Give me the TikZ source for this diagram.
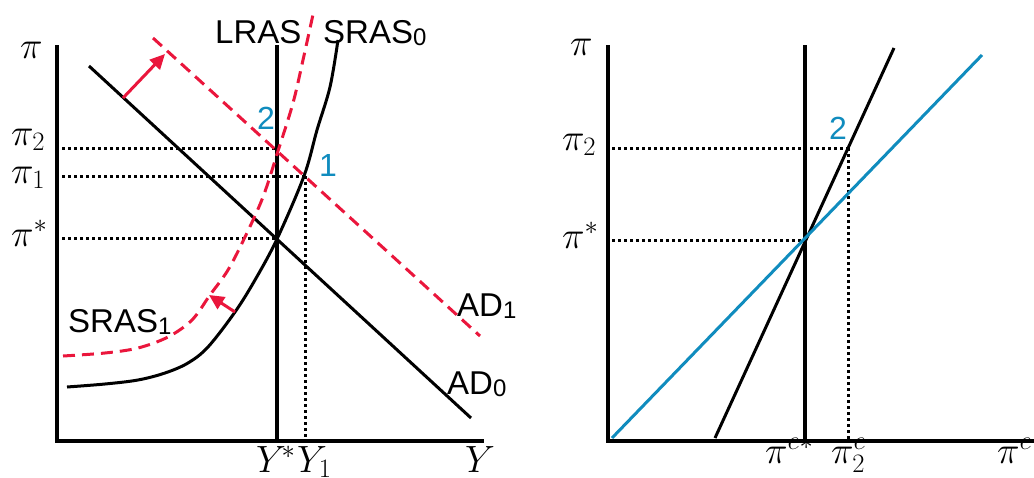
\RequirePackage{fix-cm}
\documentclass[tikz,border=0pt]{standalone}
\usepackage{fontspec}
\setsansfont{Liberation Sans}
\usetikzlibrary{arrows.meta}
\definecolor{ecred}{RGB}{234,22,60}
\definecolor{ecblue}{RGB}{16,140,190}
\newcommand{\subnum}[1]{\raisebox{-2pt}{\fontsize{24}{26}\selectfont #1}}
\begin{document}
\begin{tikzpicture}[x=1pt,y=-1pt,
  axis/.style={line width=3.6pt},
  curve/.style={line width=3pt},
  guide/.style={line width=3pt, dash pattern=on 3pt off 3pt},
  shifted/.style={line width=3pt, ecred, dash pattern=on 12pt off 7pt},
  shiftarrow/.style={line width=3pt, ecred, -{Triangle[length=15pt,width=14pt]}},
  lab/.style={font=\sffamily\fontsize{33}{36}\selectfont, inner sep=0pt, anchor=base west},
  eqlab/.style={font=\sffamily\fontsize{32}{36}\selectfont, text=ecblue, inner sep=0pt},
  mlab/.style={font=\fontsize{38}{44}\selectfont, inner sep=0pt, anchor=base west}]
\useasboundingbox (0,0) rectangle (1034,477);

% ---------- left panel ----------
\coordinate (LO) at (57,441);
\coordinate (LT) at (57,45);
\coordinate (LR) at (484,441);
\draw[axis, line join=miter] (LT) -- (LO) -- (LR);
\coordinate (lrasT) at (277,45);
\coordinate (lrasB) at (277,441);
\draw[axis] (lrasT) -- (lrasB);

% guides
\coordinate (g2a) at (62,148);  \coordinate (g2b) at (277,148);
\coordinate (g1a) at (62,176);  \coordinate (g1b) at (305,176);
\coordinate (gsa) at (62,238);  \coordinate (gsb) at (277,238);
\coordinate (y1b) at (305,441);
\draw[guide] (g2a) -- (g2b);
\draw[guide] (g1a) -- (g1b);
\draw[guide] (gsa) -- (gsb);
\draw[guide] (g1b) -- (y1b);

% AD curves
\coordinate (ad0a) at (89,66);  \coordinate (ad0b) at (471,418);
\coordinate (ad1a) at (153,38); \coordinate (ad1b) at (480,336);
\draw[curve] (ad0a) -- (ad0b);
\draw[shifted] (ad1a) -- (ad1b);

% SRAS curves
\draw[curve] plot[smooth, tension=0.55] coordinates {(67,387) (105,384) (138,380) (165,373) (188,363) (208,347) (235,312) (255,280) (277,239) (304,176) (317,130) (330,87) (338,40)};
\draw[shifted] plot[smooth, tension=0.55] coordinates {(63,356) (105,353) (138,348) (168,337) (192,320) (210,295) (228,270) (245,237) (263,197) (278,151) (293,103) (303,60) (314,10)};

% shift arrows
\coordinate (a1s) at (123,98);  \coordinate (a1e) at (165,54);
\coordinate (a2s) at (235,312); \coordinate (a2e) at (209,295);
\draw[shiftarrow] (a1s) -- (a1e);
\draw[shiftarrow] (a2s) -- (a2e);

% labels
\node[lab] (lras) at (215,43) {LRAS};
\node[lab] (sras0) at (323,43) {SRAS\subnum{0}};
\node[lab] (sras1) at (68,332) {SRAS\subnum{1}};
\node[lab] (ad1) at (457,316) {AD\subnum{1}};
\node[lab] (ad0) at (447,394) {AD\subnum{0}};
\node[eqlab] (e2) at (266,118) {2};
\node[eqlab] (e1) at (328,165) {1};

\node[mlab] (piL) at (20,58) {$\pi$};
\node[mlab] (pi2L) at (11,145) {$\pi_2$};
\node[mlab] (pi1L) at (11,183) {$\pi_1$};
\node[mlab] (pisL) at (11,246) {$\pi^*$};
\node[mlab] (ys) at (256,472) {$Y^{\!*}$};
\node[mlab] (y1) at (297,472) {$Y_1$};
\node[mlab] (yax) at (465,472) {$Y$};

% ---------- right panel ----------
\coordinate (RO) at (608,441);
\coordinate (RT) at (608,45);
\coordinate (RR) at (1040,441);
\draw[axis, line join=miter] (RT) -- (RO) -- (RR);
\coordinate (vT) at (805,45);
\coordinate (vB) at (805,441);
\draw[axis] (vT) -- (vB);

\coordinate (r2a) at (612,148); \coordinate (r2b) at (848,148);
\coordinate (rsa) at (612,240); \coordinate (rsb) at (805,240);
\coordinate (r2d) at (848,441);
\draw[guide] (r2a) -- (r2b);
\draw[guide] (rsa) -- (rsb);
\draw[guide] (r2b) -- (r2d);

\coordinate (bla) at (715,438); \coordinate (blb) at (894,48);
\coordinate (bua) at (612,438); \coordinate (bub) at (982,55);
\draw[curve] (bla) -- (blb);
\draw[curve, ecblue] (bua) -- (bub);

\node[eqlab] (r2) at (838,128) {2};
\node[mlab] (piR) at (570,55) {$\pi$};
\node[mlab] (pi2R) at (562,150) {$\pi_2$};
\node[mlab] (pisR) at (562,248) {$\pi^*$};
\node[mlab] (pies) at (765,463) {$\pi^{e*}$};
\node[mlab] (pie2) at (831,463) {$\pi^e_2$};
\node[mlab] (pie) at (997,463) {$\pi^e$};
\end{tikzpicture}
\end{document}
